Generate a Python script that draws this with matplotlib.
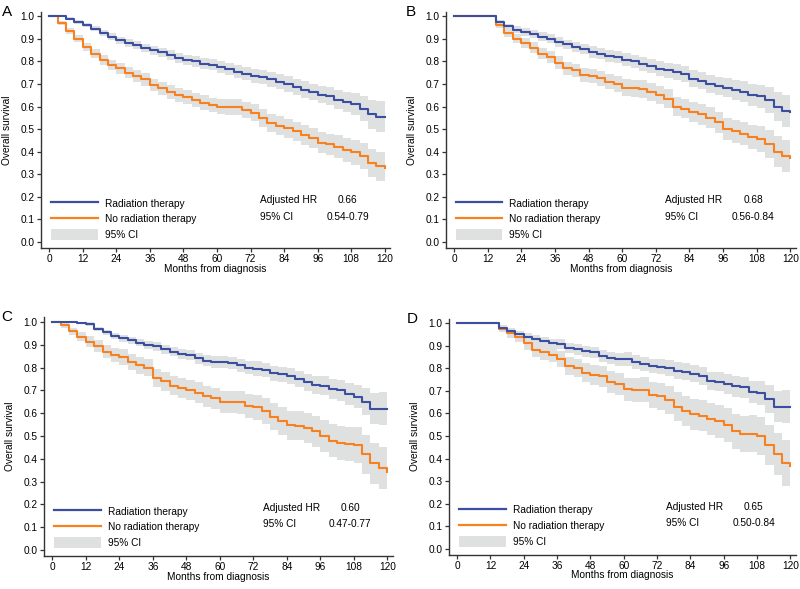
import matplotlib
matplotlib.use("Agg")
import matplotlib.pyplot as plt
import numpy as np
from matplotlib.lines import Line2D
from matplotlib.patches import Patch

plt.rcParams['font.family'] = ['Liberation Sans', 'DejaVu Sans']

# months, read every 3 months off the curves
months = np.arange(0, 121, 3)

# panel A
rt_a = [1.0, 1.0, 0.99, 0.975, 0.962, 0.945, 0.925, 0.91, 0.893, 0.882, 0.872, 0.86, 0.85, 0.84,
        0.828, 0.815, 0.805, 0.80, 0.79, 0.785, 0.775, 0.765, 0.755, 0.745, 0.735, 0.73, 0.72,
        0.71, 0.70, 0.685, 0.675, 0.665, 0.652, 0.645, 0.63, 0.62, 0.61, 0.59, 0.565, 0.555, 0.553]
nort_a = [1.0, 0.97, 0.935, 0.90, 0.865, 0.835, 0.805, 0.785, 0.77, 0.75, 0.735, 0.72, 0.695, 0.68,
          0.665, 0.65, 0.643, 0.63, 0.617, 0.607, 0.60, 0.598, 0.597, 0.585, 0.572, 0.55, 0.525,
          0.515, 0.503, 0.49, 0.475, 0.46, 0.44, 0.432, 0.422, 0.408, 0.398, 0.38, 0.35, 0.335, 0.326]
rt_a_hw = [0, 0, 0.005, 0.008, 0.01, 0.012, 0.014, 0.015, 0.016, 0.017, 0.018, 0.019, 0.02, 0.021,
           0.022, 0.022, 0.023, 0.024, 0.025, 0.025, 0.026, 0.027, 0.028, 0.029, 0.03, 0.031, 0.032,
           0.033, 0.034, 0.035, 0.036, 0.037, 0.038, 0.04, 0.042, 0.044, 0.048, 0.055, 0.065, 0.068, 0.07]
nort_a_hw = [0, 0.008, 0.012, 0.015, 0.018, 0.02, 0.022, 0.023, 0.024, 0.025, 0.026, 0.027, 0.028,
             0.029, 0.03, 0.03, 0.031, 0.032, 0.032, 0.033, 0.034, 0.035, 0.036, 0.037, 0.038, 0.039,
             0.04, 0.041, 0.042, 0.043, 0.044, 0.045, 0.046, 0.048, 0.05, 0.052, 0.055, 0.058, 0.062,
             0.064, 0.065]

# panel B
rt_b = [1.0, 1.0, 1.0, 1.0, 1.0, 0.975, 0.955, 0.94, 0.93, 0.92, 0.91, 0.90, 0.886, 0.875, 0.865,
        0.855, 0.842, 0.835, 0.825, 0.82, 0.808, 0.80, 0.79, 0.78, 0.768, 0.76, 0.752, 0.745, 0.724,
        0.715, 0.70, 0.693, 0.684, 0.675, 0.665, 0.65, 0.645, 0.63, 0.60, 0.58, 0.575]
nort_b = [1.0, 1.0, 1.0, 1.0, 1.0, 0.96, 0.925, 0.90, 0.88, 0.86, 0.835, 0.82, 0.795, 0.77, 0.76,
          0.74, 0.735, 0.725, 0.71, 0.70, 0.684, 0.68, 0.678, 0.665, 0.653, 0.635, 0.60, 0.59, 0.575,
          0.565, 0.55, 0.53, 0.50, 0.49, 0.48, 0.465, 0.455, 0.435, 0.40, 0.38, 0.37]
rt_b_hw = [0, 0, 0, 0, 0, 0.008, 0.012, 0.015, 0.017, 0.018, 0.019, 0.02, 0.021, 0.022, 0.023, 0.024,
           0.025, 0.026, 0.027, 0.028, 0.029, 0.03, 0.031, 0.032, 0.033, 0.034, 0.035, 0.036, 0.037,
           0.038, 0.039, 0.04, 0.042, 0.044, 0.046, 0.048, 0.052, 0.058, 0.065, 0.07, 0.072]
nort_b_hw = [0, 0, 0, 0, 0, 0.012, 0.018, 0.02, 0.022, 0.024, 0.026, 0.027, 0.028, 0.029, 0.03, 0.031,
             0.032, 0.033, 0.034, 0.035, 0.036, 0.037, 0.038, 0.039, 0.04, 0.041, 0.042, 0.043, 0.044,
             0.045, 0.046, 0.047, 0.048, 0.05, 0.052, 0.055, 0.058, 0.062, 0.068, 0.072, 0.075]

# panel C
rt_c = [1.0, 1.0, 1.0, 0.995, 0.99, 0.97, 0.955, 0.94, 0.928, 0.92, 0.91, 0.90, 0.894, 0.88, 0.87,
        0.86, 0.855, 0.84, 0.83, 0.825, 0.825, 0.82, 0.81, 0.80, 0.796, 0.79, 0.775, 0.77, 0.762,
        0.75, 0.735, 0.725, 0.72, 0.705, 0.70, 0.685, 0.673, 0.65, 0.62, 0.62, 0.62]
nort_c = [1.0, 0.985, 0.96, 0.935, 0.913, 0.895, 0.87, 0.855, 0.847, 0.825, 0.81, 0.80, 0.755, 0.74,
          0.72, 0.71, 0.703, 0.69, 0.675, 0.665, 0.65, 0.648, 0.647, 0.63, 0.625, 0.61, 0.585, 0.565,
          0.546, 0.545, 0.535, 0.52, 0.50, 0.48, 0.47, 0.465, 0.46, 0.42, 0.38, 0.36, 0.34]
rt_c_hw = [0, 0, 0, 0.005, 0.008, 0.01, 0.012, 0.014, 0.015, 0.016, 0.017, 0.018, 0.019, 0.02, 0.021,
           0.022, 0.023, 0.024, 0.025, 0.026, 0.027, 0.028, 0.029, 0.03, 0.031, 0.032, 0.033, 0.034,
           0.035, 0.036, 0.037, 0.039, 0.041, 0.043, 0.045, 0.048, 0.052, 0.06, 0.068, 0.072, 0.073]
nort_c_hw = [0, 0.01, 0.015, 0.02, 0.024, 0.027, 0.03, 0.032, 0.034, 0.036, 0.038, 0.039, 0.04, 0.041,
             0.042, 0.043, 0.044, 0.045, 0.046, 0.047, 0.048, 0.049, 0.05, 0.052, 0.054, 0.056, 0.058,
             0.06, 0.062, 0.064, 0.066, 0.068, 0.07, 0.072, 0.074, 0.076, 0.08, 0.085, 0.09, 0.092, 0.093]

# panel D
rt_d = [1.0, 1.0, 1.0, 1.0, 1.0, 0.98, 0.965, 0.95, 0.938, 0.93, 0.92, 0.91, 0.908, 0.89, 0.885,
        0.875, 0.87, 0.855, 0.845, 0.84, 0.84, 0.83, 0.82, 0.81, 0.807, 0.80, 0.79, 0.785, 0.775,
        0.765, 0.745, 0.74, 0.73, 0.72, 0.715, 0.695, 0.69, 0.665, 0.63, 0.63, 0.63]
nort_d = [1.0, 1.0, 1.0, 1.0, 1.0, 0.975, 0.955, 0.94, 0.91, 0.88, 0.87, 0.86, 0.84, 0.81, 0.80,
          0.78, 0.77, 0.765, 0.74, 0.73, 0.706, 0.705, 0.705, 0.68, 0.676, 0.66, 0.63, 0.61, 0.596,
          0.59, 0.575, 0.565, 0.547, 0.52, 0.51, 0.51, 0.50, 0.46, 0.42, 0.38, 0.365]
rt_d_hw = [0, 0, 0, 0, 0, 0.008, 0.012, 0.015, 0.017, 0.019, 0.02, 0.021, 0.022, 0.023, 0.024, 0.025,
           0.026, 0.027, 0.028, 0.029, 0.03, 0.031, 0.032, 0.033, 0.034, 0.035, 0.036, 0.037, 0.038,
           0.039, 0.04, 0.042, 0.044, 0.046, 0.048, 0.05, 0.055, 0.062, 0.07, 0.074, 0.075]
nort_d_hw = [0, 0, 0, 0, 0, 0.015, 0.02, 0.024, 0.027, 0.03, 0.032, 0.034, 0.036, 0.038, 0.04, 0.042,
             0.044, 0.046, 0.048, 0.05, 0.052, 0.054, 0.056, 0.058, 0.06, 0.062, 0.064, 0.066, 0.068,
             0.07, 0.072, 0.074, 0.076, 0.078, 0.08, 0.083, 0.086, 0.09, 0.095, 0.1, 0.102]

panel_labels = ['A', 'B', 'C', 'D']
hr_values = ['0.66', '0.68', '0.60', '0.65']
ci_values = ['0.54-0.79', '0.56-0.84', '0.47-0.77', '0.50-0.84']
xticks = np.arange(0, 121, 12)
yticks = np.round(np.arange(0, 1.01, 0.1), 1)

blue = '#3b4fa1'
orange = '#f7801f'
grey = '#dfe0e0'
txt = 7.3

panels = [
    (rt_a, nort_a, rt_a_hw, nort_a_hw),
    (rt_b, nort_b, rt_b_hw, nort_b_hw),
    (rt_c, nort_c, rt_c_hw, nort_c_hw),
    (rt_d, nort_d, rt_d_hw, nort_d_hw),
]
# [left, bottom, width, height] in figure fraction
positions = [
    [0.051, 0.579, 0.437, 0.401],
    [0.557, 0.579, 0.438, 0.401],
    [0.055, 0.056, 0.436, 0.405],
    [0.561, 0.058, 0.434, 0.401],
]
label_pos = [(0.002, 0.991), (0.507, 0.991), (0.002, 0.473), (0.508, 0.470)]

fig = plt.figure(figsize=(8, 5.89), dpi=100)

for i, (rt, nort, rt_hw, nort_hw) in enumerate(panels):
    ax = fig.add_axes(positions[i])
    rt = np.array(rt)
    nort = np.array(nort)
    rt_hw = np.array(rt_hw)
    nort_hw = np.array(nort_hw)

    ax.fill_between(months, rt - rt_hw, np.minimum(rt + rt_hw, 1.0), step='post',
                    color=grey, lw=0)
    ax.fill_between(months, nort - nort_hw, np.minimum(nort + nort_hw, 1.0), step='post',
                    color=grey, lw=0)
    ax.plot(months, nort, drawstyle='steps-post', color=orange, lw=1.5)
    ax.plot(months, rt, drawstyle='steps-post', color=blue, lw=1.5)

    ax.set_xlim(-3, 122)
    ax.set_ylim(-0.027, 1.02)
    ax.set_xticks(xticks)
    ax.set_yticks(yticks)
    ax.set_yticklabels(['%.1f' % v for v in yticks])
    ax.tick_params(direction='out', length=3, width=0.9, labelsize=7.3, pad=1.5, color='#333333')
    for s in ['top', 'right']:
        ax.spines[s].set_visible(False)
    for s in ['left', 'bottom']:
        ax.spines[s].set_linewidth(1.0)
        ax.spines[s].set_color('#333333')
    ax.set_xlabel('Months from diagnosis', fontsize=txt)
    ax.set_ylabel('Overall survival', fontsize=txt)
    ax.xaxis.set_label_coords(0.5, -0.066)
    ax.yaxis.set_label_coords(-0.083, 0.5)

    handles = [Line2D([], [], color=blue, lw=1.6),
               Line2D([], [], color=orange, lw=1.6),
               Patch(facecolor=grey, edgecolor='none')]
    ax.legend(handles, ['Radiation therapy', 'No radiation therapy', '95% CI'],
              loc='lower left', bbox_to_anchor=(0.029, 0.034), frameon=False,
              fontsize=txt, handlelength=4.6, handleheight=1.2, handletextpad=0.7,
              labelspacing=0.5, borderpad=0, borderaxespad=0)

    ax.text(0.627, 0.203, 'Adjusted HR', transform=ax.transAxes, fontsize=txt, va='center')
    ax.text(0.627, 0.133, '95% CI', transform=ax.transAxes, fontsize=txt, va='center')
    ax.text(0.878, 0.203, hr_values[i], transform=ax.transAxes, fontsize=txt, va='center', ha='center')
    ax.text(0.878, 0.133, ci_values[i], transform=ax.transAxes, fontsize=txt, va='center', ha='center')

    fig.text(label_pos[i][0], label_pos[i][1], panel_labels[i], fontsize=11, va='top', ha='left')

fig.savefig('out.png', dpi=100)
